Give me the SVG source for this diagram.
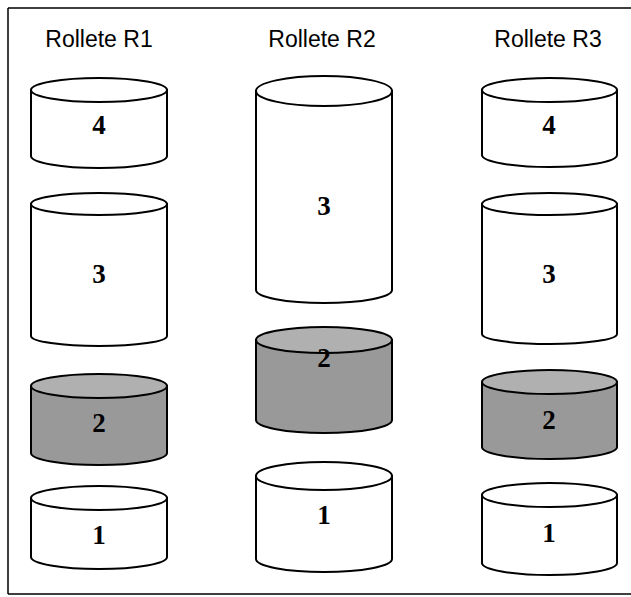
<svg xmlns="http://www.w3.org/2000/svg" width="631" height="597" viewBox="0 0 631 597">
  <style>
    .frame { fill: none; stroke: #000; stroke-width: 1.5; }
    .body { stroke: #000; stroke-width: 2; }
    .lid { stroke: #000; stroke-width: 2; }
    .plain .body, .plain .lid { fill: #fff; }
    .shaded .body { fill: #999999; }
    .shaded .lid { fill: #b0b0b0; }
    .title { font-family: "Liberation Sans", Arial, sans-serif; font-size: 23px; fill: #000; text-anchor: middle; }
    .num { font-family: "Liberation Serif", "Times New Roman", serif; font-size: 27px; font-weight: bold; fill: #000; text-anchor: middle; }
  </style>

  <rect width="631" height="597" fill="#fff"/>
  <!-- outer frame (right edge runs past the canvas) -->
  <path class="frame" d="M8,8 H640 M8,8 V594 M8,594 H640"/>

  <text class="title" x="99" y="47">Rollete R1</text>
  <text class="title" x="322" y="47">Rollete R2</text>
  <text class="title" x="548" y="47">Rollete R3</text>

  <!-- Rollete R1 -->
  <g id="r1-4" class="plain">
    <path class="body" d="M31,90 V156 A68,12 0 0 0 167,156 V90 Z"/>
    <ellipse class="lid" cx="99" cy="90" rx="68" ry="12"/>
    <text class="num" x="99" y="134">4</text>
  </g>
  <g id="r1-3" class="plain">
    <path class="body" d="M31,204 V336 A68,10 0 0 0 167,336 V204 Z"/>
    <ellipse class="lid" cx="99" cy="204" rx="68" ry="11"/>
    <text class="num" x="99" y="283">3</text>
  </g>
  <g id="r1-2" class="shaded">
    <path class="body" d="M31,386 V453 A68,12 0 0 0 167,453 V386 Z"/>
    <ellipse class="lid" cx="99" cy="386" rx="68" ry="12"/>
    <text class="num" x="99" y="432">2</text>
  </g>
  <g id="r1-1" class="plain">
    <path class="body" d="M31,498 V557 A68,12 0 0 0 167,557 V498 Z"/>
    <ellipse class="lid" cx="99" cy="498" rx="68" ry="12"/>
    <text class="num" x="99" y="544">1</text>
  </g>

  <!-- Rollete R2 -->
  <g id="r2-3" class="plain">
    <path class="body" d="M256,91 V290 A68,13 0 0 0 392,290 V91 Z"/>
    <ellipse class="lid" cx="324" cy="91" rx="68" ry="15"/>
    <text class="num" x="324" y="215">3</text>
  </g>
  <g id="r2-2" class="shaded">
    <path class="body" d="M256,340 V420 A68,13 0 0 0 392,420 V340 Z"/>
    <ellipse class="lid" cx="324" cy="340" rx="68" ry="13"/>
    <text class="num" x="324" y="367">2</text>
  </g>
  <g id="r2-1" class="plain">
    <path class="body" d="M256,476 V559 A68,13 0 0 0 392,559 V476 Z"/>
    <ellipse class="lid" cx="324" cy="476" rx="68" ry="14"/>
    <text class="num" x="324" y="524">1</text>
  </g>

  <!-- Rollete R3 -->
  <g id="r3-4" class="plain">
    <path class="body" d="M482,90 V155 A67.5,12 0 0 0 617,155 V90 Z"/>
    <ellipse class="lid" cx="549.5" cy="90" rx="67.5" ry="12"/>
    <text class="num" x="549" y="134">4</text>
  </g>
  <g id="r3-3" class="plain">
    <path class="body" d="M482,204 V334 A67.5,10 0 0 0 617,334 V204 Z"/>
    <ellipse class="lid" cx="549.5" cy="204" rx="67.5" ry="11"/>
    <text class="num" x="549" y="283">3</text>
  </g>
  <g id="r3-2" class="shaded">
    <path class="body" d="M482,382 V447 A67.5,12 0 0 0 617,447 V382 Z"/>
    <ellipse class="lid" cx="549.5" cy="382" rx="67.5" ry="12"/>
    <text class="num" x="549" y="429">2</text>
  </g>
  <g id="r3-1" class="plain">
    <path class="body" d="M482,495 V563 A67.5,12 0 0 0 617,563 V495 Z"/>
    <ellipse class="lid" cx="549.5" cy="495" rx="67.5" ry="12"/>
    <text class="num" x="549" y="542">1</text>
  </g>
</svg>
